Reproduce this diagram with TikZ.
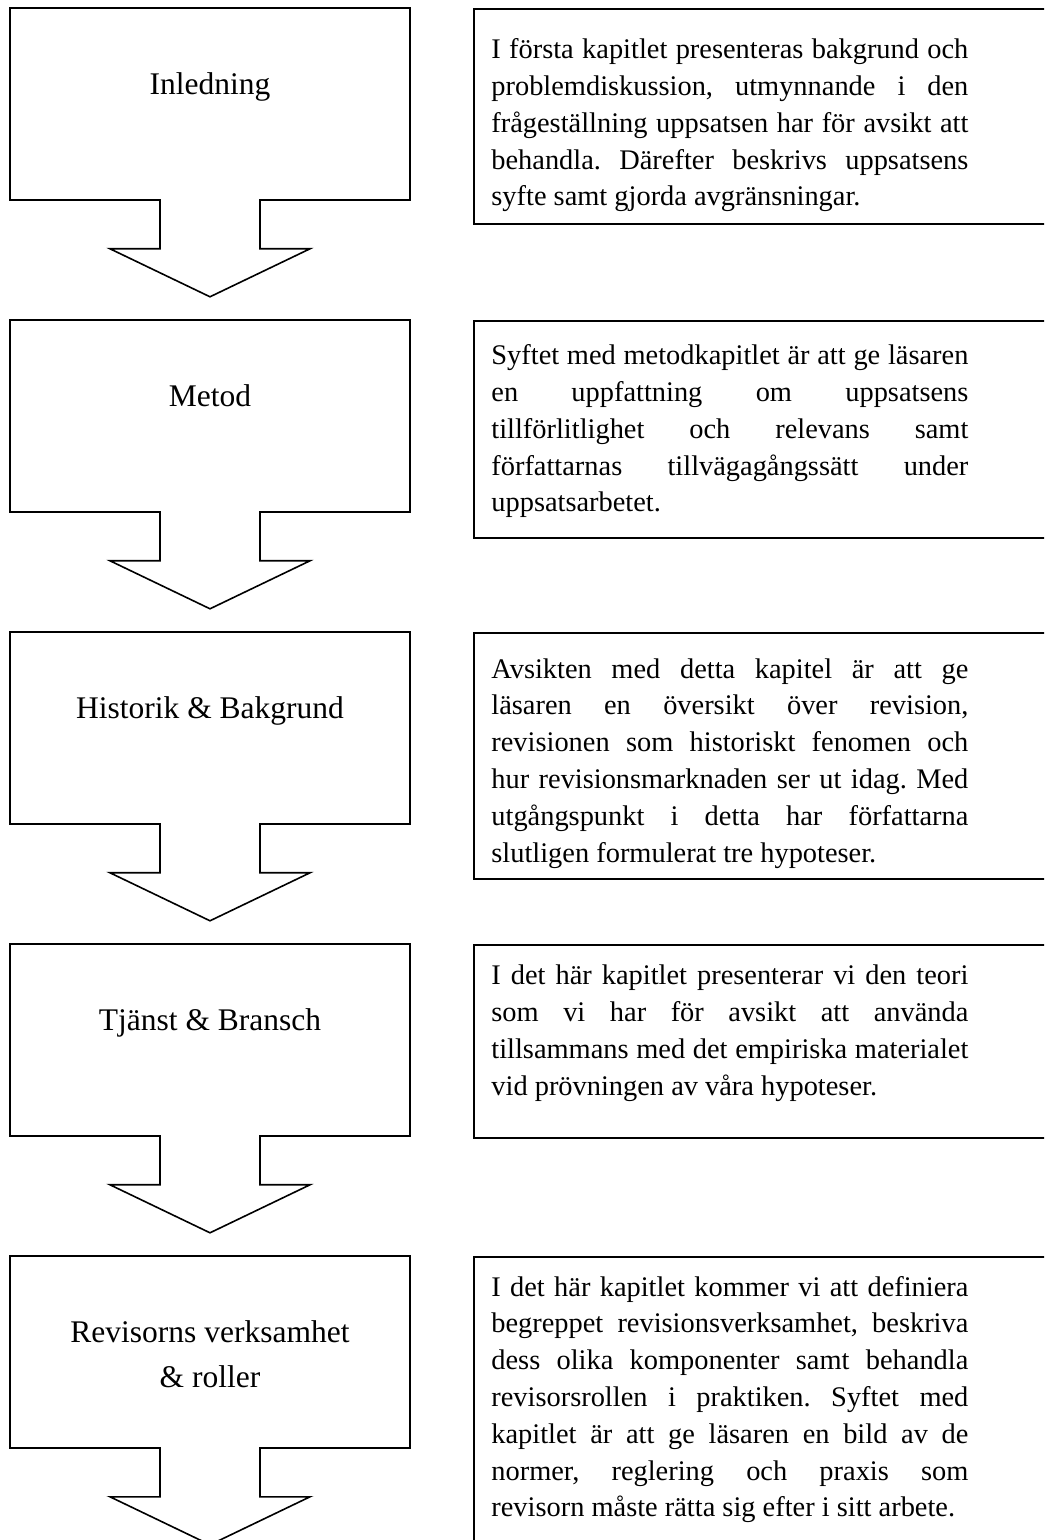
\documentclass[tikz,border=0pt]{standalone}
\usepackage{fontspec}
\setmainfont{Liberation Serif}
\usetikzlibrary{shapes.arrows}
\hyphenpenalty=10000
\exhyphenpenalty=10000
\frenchspacing

\tikzset{
  chapbox/.style={shape=arrow box, draw, line width=0.8pt, inner sep=0pt,
    minimum width=200pt, minimum height=96pt,
    arrow box shaft width=50pt, arrow box head extend=25pt,
    arrow box tip angle=128.7,
    arrow box north arrow=0pt, arrow box east arrow=0pt,
    arrow box west arrow=0pt, arrow box south arrow=48pt},
  chaplabel/.style={anchor=north, inner sep=0pt, align=center,
    font=\fontsize{15.75}{22.5}\selectfont},
  descbox/.style={draw, line width=0.8pt, anchor=north west, inner sep=0pt,
    minimum width=300pt},
  desctext/.style={anchor=north west, inner sep=0pt, text width=238.5pt,
    align=justify, font=\fontsize{14.2}{18.4}\selectfont}
}

\begin{document}
\begin{tikzpicture}[x=0.5pt, y=-0.5pt]
    \useasboundingbox (0,0) rectangle (1044,1540);
    \clip (0,0) rectangle (1044,1540);

    %% chapter boxes with arrows
    \node[chapbox] (inledning) at (210,104) {};
    \node[chapbox] (metod) at (210,416) {};
    \node[chapbox] (historik) at (210,728) {};
    \node[chapbox] (tjanst) at (210,1040) {};
    \node[chapbox] (revisor) at (210,1352) {};

    % titles
    \node[chaplabel] (linledning) at (210,62.5) {\strut Inledning};
    \node[chaplabel] (lmetod) at (210,374.5) {\strut Metod};
    \node[chaplabel] (lhistorik) at (210,686.5) {\strut Historik \& Bakgrund};
    \node[chaplabel] (ltjanst) at (210,998.5) {\strut Tjänst \& Bransch};
    \node[chaplabel] (lrevisor) at (210,1310.5) {\strut Revisorns verksamhet\\ \& roller};

    %% description boxes
    \node[descbox, minimum height=107.5pt] (dinledning) at (473,8) {};
    \node[descbox, minimum height=108.5pt] (dmetod) at (473,320) {};
    \node[descbox, minimum height=123pt] (dhistorik) at (473,632) {};
    \node[descbox, minimum height=96.5pt] (dtjanst) at (473,944) {};
    \node[descbox, minimum height=160pt] (drevisor) at (473,1256) {};

    % texts
    \node[desctext] (tinledning) at (491,32.5) {\strut I första kapitlet presenteras bakgrund och\linebreak
      problemdiskussion, utmynnande i den\linebreak
      frågeställning uppsatsen har för avsikt att\linebreak
      behandla. Därefter beskrivs uppsatsens\linebreak
      syfte samt gjorda avgränsningar.};
    \node[desctext] (tmetod) at (491,338.5) {\strut Syftet med metodkapitlet är att ge läsaren\linebreak
      en uppfattning om uppsatsens\linebreak
      tillförlitlighet och relevans samt\linebreak
      författarnas tillvägagångssätt under\linebreak
      uppsatsarbetet.};
    \node[desctext] (thistorik) at (491,652) {\strut Avsikten med detta kapitel är att ge\linebreak
      läsaren en översikt över revision,\linebreak
      revisionen som historiskt fenomen och\linebreak
      hur revisionsmarknaden ser ut idag. Med\linebreak
      utgångspunkt i detta har författarna\linebreak
      slutligen formulerat tre hypoteser.};
    \node[desctext] (ttjanst) at (491,958.5) {\strut I det här kapitlet presenterar vi den teori\linebreak
      som vi har för avsikt att använda\linebreak
      tillsammans med det empiriska materialet\linebreak
      vid prövningen av våra hypoteser.};
    \node[desctext] (trevisor) at (491,1270) {\strut I det här kapitlet kommer vi att definiera\linebreak
      begreppet revisionsverksamhet, beskriva\linebreak
      dess olika komponenter samt behandla\linebreak
      revisorsrollen i praktiken. Syftet med\linebreak
      kapitlet är att ge läsaren en bild av de\linebreak
      normer, reglering och praxis som\linebreak
      revisorn måste rätta sig efter i sitt arbete.};
\end{tikzpicture}
\end{document}
